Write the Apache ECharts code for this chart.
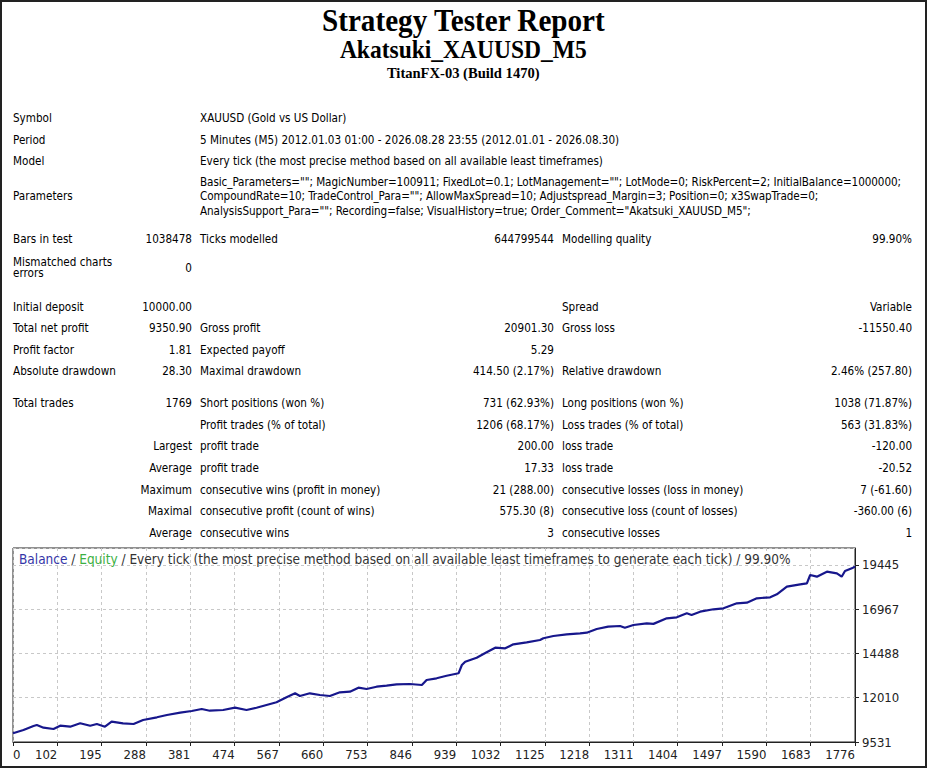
<!DOCTYPE html>
<html>
<head>
<meta charset="utf-8">
<script src="https://cdn.jsdelivr.net/npm/echarts@6.0.0/dist/echarts.min.js"></script>
<style>
  html, body { margin: 0; padding: 0; background: #fff; }
  #page { position: relative; width: 927px; height: 768px; background: #fff; overflow: hidden; }
  #frame { position: absolute; left: 0; top: 0; width: 927px; height: 768px; box-sizing: border-box; border: 2px solid #222; pointer-events: none; z-index: 10; }
  .hd { position: absolute; left: 0; width: 927px; text-align: center; font-family: "Liberation Serif", "Times New Roman", serif; font-weight: bold; color: #000; white-space: nowrap; }
  .hd span { display: inline-block; transform: scaleX(0.94); transform-origin: 50% 50%; }
  #h1 { top: 5px; font-size: 31px; line-height: 31px; }
  #h2 { top: 37px; font-size: 25px; line-height: 25px; }
  #h3 { top: 65px; font-size: 15.5px; line-height: 15.5px; }
  #rep { position: absolute; left: 13px; top: 107.5px; width: 899px; table-layout: fixed; border-collapse: collapse; border-spacing: 0;
         font-family: "DejaVu Sans Condensed", "Liberation Sans", sans-serif; font-size: 11.6px; line-height: 14px; color: #000; }
  #rep td { padding: 0; vertical-align: middle; white-space: nowrap; overflow: visible; }
  #rep td.c1 { text-align: left; }
  #rep td.c2 { text-align: right; }
  #rep td.c3 { text-align: left; padding-left: 8px; }
  #rep td.c4 { text-align: right; }
  #rep td.c5 { text-align: left; padding-left: 8px; }
  #rep td.c6 { text-align: right; }
  #rep tr.r { height: 21.6px; }
  #rep tr.pr { height: 56.2px; }
  #rep tr.pr td { vertical-align: top; }
  #rep tr.pr td.plab { padding-top: 17.2px; }
  #rep tr.pr td.ptxt { padding-top: 3px; line-height: 14.2px; letter-spacing: -0.07px; }
  #rep tr.mm { height: 36.4px; }
  #rep tr.mm td.c1 { white-space: normal; line-height: 11.7px; }
  #rep tr.sp1 { height: 9.4px; }
  #rep tr.sp2 { height: 10.2px; }
  #chart { position: absolute; left: 0; top: 540px; width: 927px; height: 228px; }
</style>
</head>
<body>
<div id="page">
  <div id="h1" class="hd"><span id="t1"></span></div>
  <div id="h2" class="hd"><span id="t2"></span></div>
  <div id="h3" class="hd"><span id="t3"></span></div>
  <table id="rep">
    <colgroup>
      <col style="width:125px"><col style="width:54px"><col style="width:268px"><col style="width:94px"><col style="width:246px"><col style="width:112px">
    </colgroup>
    <tbody id="repBody"></tbody>
  </table>
  <div id="chart"></div>
  <div id="frame"></div>
</div>
<script>
// ---------- report text ----------
const headerLines = ['Strategy Tester Report', 'Akatsuki_XAUUSD_M5', 'TitanFX-03 (Build 1470)'];

const infoRows = [
  ['Symbol', 'XAUUSD (Gold vs US Dollar)'],
  ['Period', '5 Minutes (M5) 2012.01.03 01:00 - 2026.08.28 23:55 (2012.01.01 - 2026.08.30)'],
  ['Model', 'Every tick (the most precise method based on all available least timeframes)']
];

const paramLabel = 'Parameters';
const paramLines = [
  'Basic_Parameters=""; MagicNumber=100911; FixedLot=0.1; LotManagement=""; LotMode=0; RiskPercent=2; InitialBalance=1000000;',
  'CompoundRate=10; TradeControl_Para=""; AllowMaxSpread=10; Adjustspread_Margin=3; Position=0; x3SwapTrade=0;',
  'AnalysisSupport_Para=""; Recording=false; VisualHistory=true; Order_Comment="Akatsuki_XAUUSD_M5";'
];

const testRows = [
  ['Bars in test', '1038478', 'Ticks modelled', '644799544', 'Modelling quality', '99.90%']
];
const mismatchRow = ['Mismatched charts errors', '0', '', '', '', ''];

const resultRows = [
  ['Initial deposit', '10000.00', '', '', 'Spread', 'Variable'],
  ['Total net profit', '9350.90', 'Gross profit', '20901.30', 'Gross loss', '-11550.40'],
  ['Profit factor', '1.81', 'Expected payoff', '5.29', '', ''],
  ['Absolute drawdown', '28.30', 'Maximal drawdown', '414.50 (2.17%)', 'Relative drawdown', '2.46% (257.80)']
];

const tradeRows = [
  ['Total trades', '1769', 'Short positions (won %)', '731 (62.93%)', 'Long positions (won %)', '1038 (71.87%)'],
  ['', '', 'Profit trades (% of total)', '1206 (68.17%)', 'Loss trades (% of total)', '563 (31.83%)'],
  ['', 'Largest', 'profit trade', '200.00', 'loss trade', '-120.00'],
  ['', 'Average', 'profit trade', '17.33', 'loss trade', '-20.52'],
  ['', 'Maximum', 'consecutive wins (profit in money)', '21 (288.00)', 'consecutive losses (loss in money)', '7 (-61.60)'],
  ['', 'Maximal', 'consecutive profit (count of wins)', '575.30 (8)', 'consecutive loss (count of losses)', '-360.00 (6)'],
  ['', 'Average', 'consecutive wins', '3', 'consecutive losses', '1']
];

// ---------- chart data ----------
const chartTitleParts = ['Balance', 'Equity', 'Every tick (the most precise method based on all available least timeframes to generate each tick)', '99.90%'];
const xTickLabels = ['0', '102', '195', '288', '381', '474', '567', '660', '753', '846', '939', '1032', '1125', '1218', '1311', '1404', '1497', '1590', '1683', '1776'];
const yTickLabels = ['9531', '12010', '14488', '16967', '19445'];

const balanceTrades = [9,31,52,59,73,94,108,129,150,171,185,202,216,240,262,282,311,332,360,384,
  405,422,450,475,499,520,541,562,583,601,611,632,653,674,695,716,734,751,772,793,
  814,842,867,877,898,919,944,951,958,982,1003,1021,1042,1059,1087,1115,1122,1143,1171,1199,
  1213,1234,1258,1283,1293,1311,1339,1353,1381,1402,1423,1433,1451,1479,1500,1528,1549,1570,1598,1612,
  1633,1661,1675,1682,1696,1717,1738,1748,1755,1772,1776];
const balanceValues = [10020,10202,10426,10482,10331,10258,10443,10387,10577,10443,10538,10387,10667,10577,10538,10762,10913,11042,11170,11265,
  11377,11282,11321,11450,11321,11450,11601,11752,12032,12256,12105,12256,12161,12105,12312,12345,12569,12496,12625,12681,
  12759,12776,12720,13000,13095,13240,13375,13839,14024,14248,14550,14807,14774,14997,15109,15238,15333,15462,15557,15613,
  15646,15853,15982,16021,15926,16077,16172,16140,16452,16508,16732,16637,16821,16956,17011,17291,17325,17571,17627,17795,
  18220,18354,18410,18875,18780,19059,18970,18780,19098,19283,19351];

// ---------- build report ----------
document.getElementById('t1').textContent = headerLines[0];
document.getElementById('t2').textContent = headerLines[1];
document.getElementById('t3').textContent = headerLines[2];

function esc(s) { return s.replace(/&/g, '&amp;').replace(/</g, '&lt;').replace(/>/g, '&gt;'); }
function statRow(cells, cls) {
  return '<tr class="' + cls + '">' + cells.map(function (c, i) {
    return '<td class="c' + (i + 1) + '">' + esc(c) + '</td>';
  }).join('') + '</tr>';
}
let html = '';
infoRows.forEach(function (r) {
  html += '<tr class="r"><td class="c1">' + esc(r[0]) + '</td><td class="c2"></td><td class="c3" colspan="4">' + esc(r[1]) + '</td></tr>';
});
html += '<tr class="pr"><td class="c1 plab">' + esc(paramLabel) + '</td><td class="c2"></td><td class="c3 ptxt" colspan="4">' +
  paramLines.map(esc).join('<br>') + '</td></tr>';
testRows.forEach(function (r) { html += statRow(r, 'r'); });
html += statRow(mismatchRow, 'mm');
html += '<tr class="sp1"><td colspan="6"></td></tr>';
resultRows.forEach(function (r) { html += statRow(r, 'r'); });
html += '<tr class="sp2"><td colspan="6"></td></tr>';
tradeRows.forEach(function (r) { html += statRow(r, 'r'); });
document.getElementById('repBody').innerHTML = html;

// ---------- chart ----------
const chartFont = '"DejaVu Sans Condensed", "Liberation Sans", sans-serif';
const chart = echarts.init(document.getElementById('chart'), null, { renderer: 'svg' });
const balanceData = balanceTrades.map(function (t, i) { return [t, balanceValues[i]]; });

chart.setOption({
  animation: false,
  backgroundColor: '#fff',
  title: {
    left: 19, top: 12, padding: 0,
    text: '{b|' + chartTitleParts[0] + '} / {e|' + chartTitleParts[1] + '} / ' + chartTitleParts[2] + ' / ' + chartTitleParts[3],
    textStyle: {
      fontFamily: chartFont, fontSize: 13.5, fontWeight: 'normal', color: '#333',
      rich: {
        b: { fontFamily: chartFont, fontSize: 13.5, color: '#3535a8' },
        e: { fontFamily: chartFont, fontSize: 13.5, color: '#3cb043' }
      }
    }
  },
  grid: { left: 13, top: 8, right: 72, bottom: 26, show: true, borderColor: '#222', borderWidth: 1, backgroundColor: '#fff', containLabel: false },
  xAxis: {
    type: 'value', min: 9, max: 1776, interval: 93,
    axisLine: { show: true, lineStyle: { color: '#222', width: 1 } },
    axisTick: { show: true, inside: false, length: 4, lineStyle: { color: '#222' } },
    splitLine: { show: true, lineStyle: { color: '#c8c8c8', type: [3, 3], width: 1 } },
    axisLabel: {
      fontFamily: chartFont, fontSize: 13, color: '#222', margin: 6,
      align: 'right', alignMinLabel: 'left', alignMaxLabel: 'right',
      showMinLabel: true, showMaxLabel: true, hideOverlap: false,
      formatter: function (v, i) { return xTickLabels[i] !== undefined ? xTickLabels[i] : ''; }
    }
  },
  yAxis: {
    type: 'value', position: 'right', min: 9531, max: 20385, interval: 2478.5,
    axisLine: { show: true, lineStyle: { color: '#222', width: 1 } },
    axisTick: { show: true, inside: false, length: 4, lineStyle: { color: '#222' } },
    splitLine: { show: true, lineStyle: { color: '#c8c8c8', type: [3, 3], width: 1 } },
    axisLabel: {
      fontFamily: chartFont, fontSize: 13, color: '#222', margin: 7,
      showMinLabel: true, showMaxLabel: false, hideOverlap: false,
      formatter: function (v, i) { return yTickLabels[i] !== undefined ? yTickLabels[i] : ''; }
    }
  },
  series: [{
    name: 'Balance', type: 'line', data: balanceData, showSymbol: false, symbol: 'none',
    lineStyle: { color: '#17178c', width: 2.2 }, clip: true, z: 5
  }]
});
</script>
</body>
</html>
